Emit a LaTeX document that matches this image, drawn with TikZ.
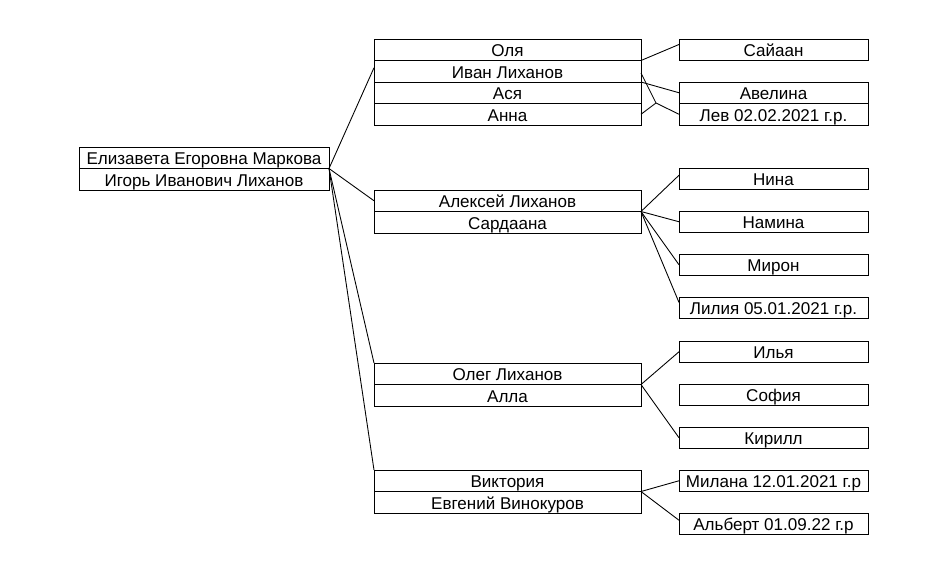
\documentclass[tikz,border=0pt]{standalone}
\usepackage{fontspec}
\setmainfont{Liberation Sans}
\usepackage{tikz}
\usetikzlibrary{calc,positioning}

\tikzset{
  box/.style    = {draw, line width=0.55pt, inner sep=0pt, outer sep=0pt,
                   minimum height=0.43cm, text height=0.35cm, text depth=0.08cm,
                   font=\fontsize{9.7}{11}\selectfont},
  parent/.style = {box, minimum width=5.0cm},
  couple/.style = {box, minimum width=5.34cm},
  kid/.style    = {box, minimum width=3.78cm},
  link/.style   = {line width=0.5pt}
}

\begin{document}
\begin{tikzpicture}
\useasboundingbox (0,0) rectangle (18.7,-11.36);
% root
\node[parent] (eliz) at (4.08,-3.155) {Елизавета Егоровна Маркова};
\node[parent, below=0pt of eliz] (igor) {Игорь Иванович Лиханов};
% children with spouses
\node[couple] (olya) at (10.15,-0.995) {Оля};
\node[couple, below=0pt of olya]  (ivan) {Иван Лиханов};
\node[couple, below=0pt of ivan]  (asya) {Ася};
\node[couple, below=0pt of asya]  (anna) {Анна};
\node[couple] (aleks) at (10.15,-4.015) {Алексей Лиханов};
\node[couple, below=0pt of aleks] (sarda) {Сардаана};
\node[couple] (oleg) at (10.15,-7.475) {Олег Лиханов};
\node[couple, below=0pt of oleg]  (alla) {Алла};
\node[couple] (vika) at (10.15,-9.615) {Виктория};
\node[couple, below=0pt of vika]  (evgen) {Евгений Винокуров};
% grandchildren
\node[kid] (saian)   at (15.47,-0.995) {Сайаан};
\node[kid] (avelina) at (15.47,-1.855) {Авелина};
\node[kid, below=0pt of avelina] (lev) {Лев 02.02.2021 г.р.};
\node[kid] (nina)    at (15.47,-3.575) {Нина};
\node[kid] (namina)  at (15.47,-4.435) {Намина};
\node[kid] (miron)   at (15.47,-5.295) {Мирон};
\node[kid] (liliya)  at (15.47,-6.155) {Лилия 05.01.2021 г.р.};
\node[kid] (ilya)    at (15.47,-7.035) {Илья};
\node[kid] (sofia)   at (15.47,-7.895) {София};
\node[kid] (kirill)  at (15.47,-8.755) {Кирилл};
\node[kid] (milana)  at (15.47,-9.615) {Милана 12.01.2021 г.р};
\node[kid] (albert)  at (15.47,-10.475) {Альберт 01.09.22 г.р};
% root to children
\draw[link] (eliz.south east) -- ([yshift=2pt]ivan.west);
\draw[link] (eliz.south east) -- (aleks.west);
\draw[link] (eliz.south east) -- (oleg.north west);
\draw[link] (eliz.south east) -- (vika.north west);
% first family
\coordinate (j) at (13.12,-2.06);
\draw[link] (olya.south east) -- ([yshift=3pt]saian.west);
\draw[link] (ivan.south east) -- (avelina.west);
\draw[link] ([yshift=-1pt]ivan.east) -- (j);
\draw[link] (anna.east) -- (j);
\draw[link] (j) -- (lev.west);
% second family
\draw[link] (aleks.south east) -- ([yshift=2pt]nina.west);
\draw[link] (aleks.south east) -- (namina.west);
\draw[link] (aleks.south east) -- (miron.west);
\draw[link] (aleks.south east) -- ([yshift=3pt]liliya.west);
% third family
\draw[link] (oleg.south east) -- (ilya.west);
\draw[link] (oleg.south east) -- (kirill.west);
% fourth family
\draw[link] (vika.south east) -- (milana.west);
\draw[link] (vika.south east) -- ([yshift=2pt]albert.west);
\end{tikzpicture}
\end{document}
